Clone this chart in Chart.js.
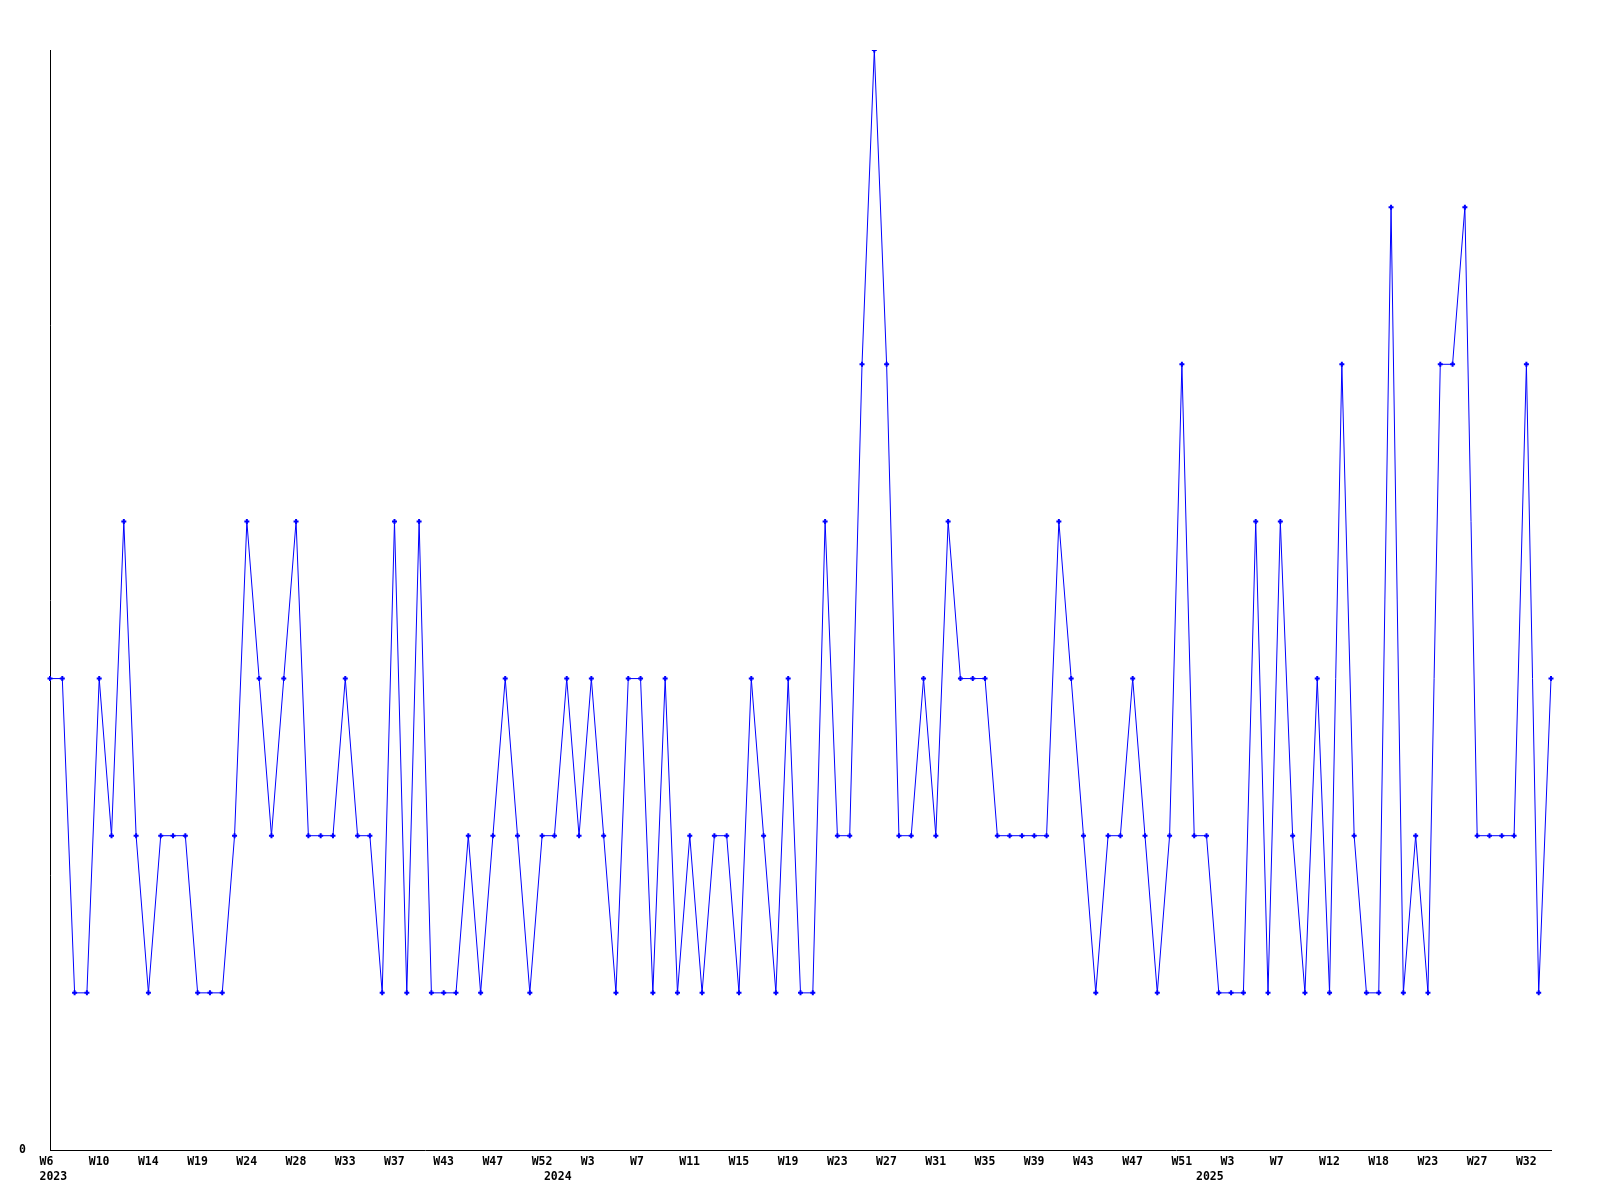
<!DOCTYPE html>
<html>
<head>
<meta charset="utf-8">
<script src="https://cdn.jsdelivr.net/npm/chart.js@4"></script>
<style>
  html, body { margin: 0; padding: 0; background: #fff; }
  #wrap { width: 1600px; height: 1200px; }
</style>
</head>
<body>
<div id="wrap"><canvas id="weekChart" width="1600" height="1200"></canvas></div>
<script>
// Week labels per year (weeks without data are not in the series)
const weeks2023 = ['W6','W7','W8','W9','W10','W11','W12','W13','W14','W15','W16','W17','W19','W20','W21','W22',
    'W24','W25','W26','W27','W28','W29','W30','W31','W33','W34','W35','W36','W37','W38','W39','W41',
    'W43','W44','W45','W46','W47','W48','W49','W50','W52'];
const weeks2024 = ['W0','W1','W2','W3','W4','W5','W6','W7','W8','W9','W10','W11','W12','W13','W14','W15','W16',
    'W17','W18','W19','W20','W21','W22','W23','W24','W25','W26','W27','W28','W29','W30','W31','W32','W33',
    'W34','W35','W36','W37','W38','W39','W40','W41','W42','W43','W44','W45','W46','W47','W48','W49','W50',
    'W51','W52'];
const weeks2025 = ['W0','W2','W3','W4','W5','W6','W7','W8','W10','W11','W12','W13','W15','W16','W18','W19',
    'W20','W21','W23','W24','W25','W26','W27','W28','W30','W31','W32','W33','W34'];
const years = ['2023', '2024', '2025'];

// Weekly counts
const counts = [
    3,3,1,1,3,2,4,2,1,2,
    2,2,1,1,1,2,4,3,2,3,
    4,2,2,2,3,2,2,1,4,1,
    4,1,1,1,2,1,2,3,2,1,
    2,2,3,2,3,2,1,3,3,1,
    3,1,2,1,2,2,1,3,2,1,
    3,1,1,4,2,2,5,7,5,2,
    2,3,2,4,3,3,3,2,2,2,
    2,2,4,3,2,1,2,2,3,2,
    1,2,5,2,2,1,1,1,4,1,
    4,2,1,3,1,5,2,1,1,6,
    1,2,1,5,5,6,2,2,2,2,
    5,1,3
];

const yMax = 7;
const labelEvery = 4;

const weekLabels = weeks2023.concat(weeks2024, weeks2025);
// index where each year starts
const yearStart = [0, weeks2023.length, weeks2023.length + weeks2024.length];

const tickFont = { family: '"DejaVu Sans Mono", "Liberation Mono", monospace', size: 11.5, weight: 'bold', lineHeight: 1.33 };

function xTick(value, index) {
    const first = index % labelEvery === 0 ? weekLabels[index] : '';
    const y = yearStart.indexOf(index);
    if (y >= 0) return [first, years[y]];
    return first;
}

const ctx = document.getElementById('weekChart').getContext('2d');
new Chart(ctx, {
    type: 'line',
    data: {
        labels: weekLabels,
        datasets: [{
            data: counts,
            borderColor: '#0000ff',
            borderWidth: 1,
            tension: 0,
            fill: false,
            pointStyle: 'cross',
            pointRadius: 2.5,
            pointBorderWidth: 2,
            pointBorderColor: '#0000ff',
            pointBackgroundColor: '#0000ff'
        }]
    },
    options: {
        responsive: false,
        animation: false,
        layout: { padding: { top: 50, right: 49, left: 0, bottom: 0 } },
        plugins: { legend: { display: false }, tooltip: { enabled: false } },
        scales: {
            x: {
                offset: false,
                grid: { display: false, drawTicks: false },
                border: { display: true, color: '#000', width: 1 },
                ticks: {
                    autoSkip: false, maxRotation: 0, minRotation: 0,
                    align: 'start', labelOffset: -10.5, padding: 4,
                    color: '#000', font: tickFont,
                    callback: xTick
                },
                afterFit: s => { s.height = 50; }
            },
            y: {
                min: 0, max: yMax,
                grid: { display: false, drawTicks: false },
                border: { display: true, color: '#000', width: 1 },
                ticks: {
                    stepSize: 1, padding: 24, color: '#000', font: tickFont,
                    callback: v => (v === 0 ? '0' : '')
                },
                afterFit: s => { s.width = 50; }
            }
        }
    }
});
</script>
</body>
</html>
